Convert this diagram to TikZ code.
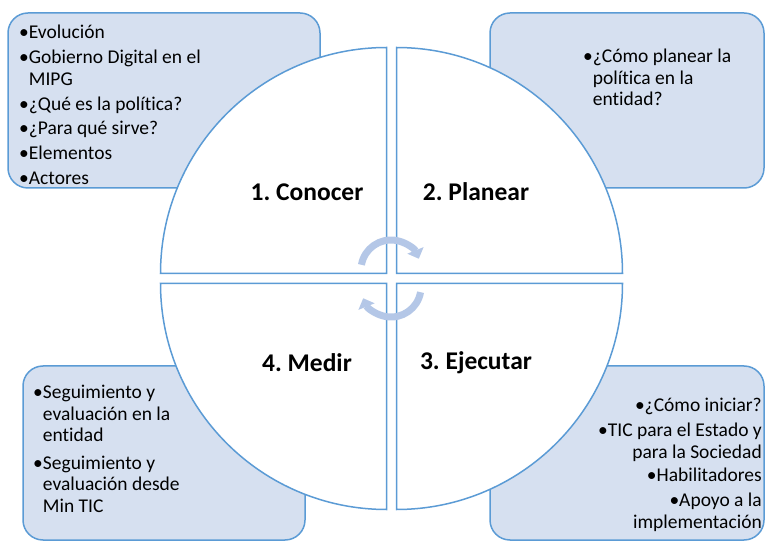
\documentclass[tikz,border=0pt]{standalone}
\usepackage{fontspec}
\setmainfont{Carlito}[Ligatures=NoCommon]
\frenchspacing
\usepackage{tikz}
\usetikzlibrary{arrows.meta}
\definecolor{boxfill}{RGB}{214,224,240}
\definecolor{boxline}{RGB}{91,155,213}
\definecolor{cyclecol}{RGB}{180,199,231}
\tikzstyle{infobox} = [draw=boxline,fill=boxfill,line width=1.5pt,rounded corners=20pt]
\tikzstyle{quarter} = [draw=boxline,fill=white,line width=1.5pt]
\tikzstyle{steplabel} = [font=\fontsize{25.5}{30}\selectfont\bfseries,inner sep=0pt]
\tikzstyle{itemtext} = [font=\fontsize{19.5}{21.5}\selectfont,inner sep=0pt]
\tikzstyle{cyclearrow} = [cyclecol,line width=7pt,-{Triangle[width=17pt,length=9pt]}]

\begin{document}
\begin{tikzpicture}[x=1pt,y=1pt]
	\useasboundingbox (0,0) rectangle (765,541);
	\draw[infobox] (8,353) rectangle (320,528);
	\draw[infobox] (490,353) rectangle (764,528);
	\draw[infobox] (23,1) rectangle (305,175);
	\draw[infobox] (490,1) rectangle (764,175);
	
	\draw[quarter] (386.5,267.5) -- (160.5,267.5) arc[start angle=180,end angle=90,radius=226] -- cycle;
	\draw[quarter] (396.5,267.5) -- (396.5,493.5) arc[start angle=90,end angle=0,radius=226] -- cycle;
	\draw[quarter] (396.5,257.5) -- (622.5,257.5) arc[start angle=0,end angle=-90,radius=226] -- cycle;
	\draw[quarter] (386.5,257.5) -- (386.5,31.5) arc[start angle=270,end angle=180,radius=226] -- cycle;
	
	\draw[cyclearrow] (391,271) ++(170:30) arc[start angle=170,end angle=22,radius=30];
	\draw[cyclearrow] (391,254) ++(-10:30) arc[start angle=-10,end angle=-158,radius=30];
	
	\node[steplabel] (conocer) at (307,349) {1. Conocer};
	\node[steplabel] (planear) at (476,349) {2. Planear};
	\node[steplabel] (ejecutar) at (476,178) {3. Ejecutar};
	\node[steplabel] (medir) at (307,178) {4. Medir};
	
	\node[itemtext,anchor=base west,align=left] (conocerlist) at (19,356)
		{•Evolución\\[3.5pt] •Gobierno Digital en el\\ \phantom{•}MIPG\\[3.5pt] •¿Qué es la política?\\[3pt]
		•¿Para qué sirve?\\[3.5pt] •Elementos\\[3.5pt] •Actores};
	\node[itemtext,anchor=base west,align=left] (planearlist) at (583,435)
		{•¿Cómo planear la\\ \phantom{•}política en la\\ \phantom{•}entidad?};
	\node[itemtext,anchor=base west,align=left] (medirlist) at (33,29)
		{•Seguimiento y\\ \phantom{•}evaluación en la\\ \phantom{•}entidad\\[6pt]
		•Seguimiento y\\ \phantom{•}evaluación desde\\ \phantom{•}Min TIC};
	\node[itemtext,anchor=base east,align=right] (ejecutarlist) at (762,13)
		{•¿Cómo iniciar?\\[3.5pt] •TIC para el Estado y\\ para la Sociedad\\[2pt] •Habilitadores\\[3.5pt]
		•Apoyo a la\\ implementación};
\end{tikzpicture}
\end{document}
